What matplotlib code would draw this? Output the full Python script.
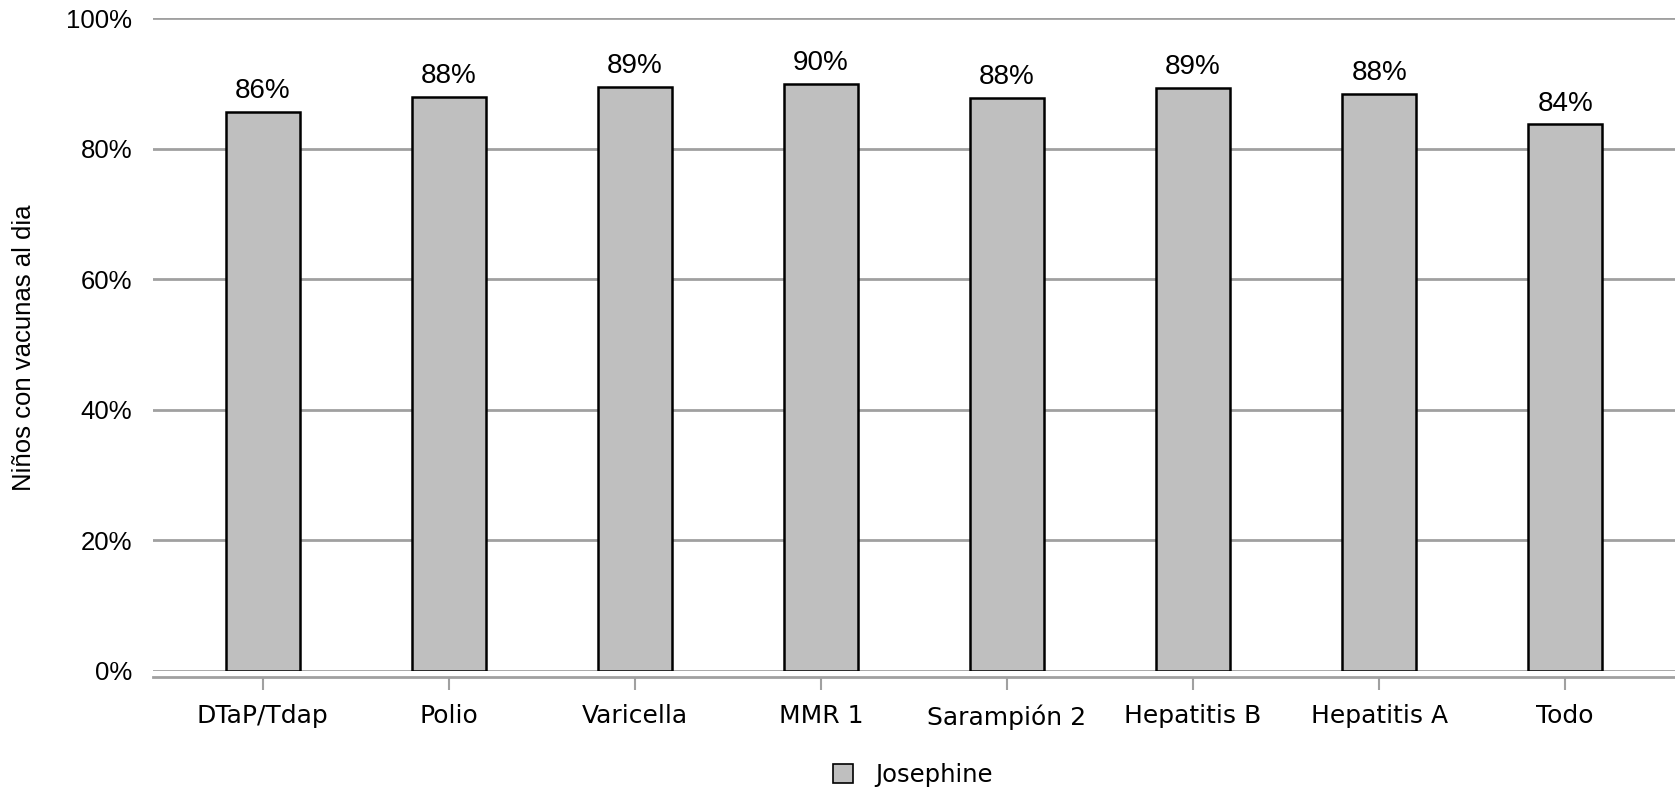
import matplotlib.pyplot as plt
from matplotlib.patches import Patch

categories = ['DTaP/Tdap', 'Polio', 'Varicella', 'MMR 1', 'Sarampión 2',
              'Hepatitis B', 'Hepatitis A', 'Todo']
values = [85.6, 87.9, 89.4, 89.9, 87.7, 89.3, 88.4, 83.7]
series_name = 'Josephine'
y_ticks = [0, 20, 40, 60, 80, 100]
y_label = 'Niños con vacunas al dia'

fig = plt.figure(figsize=(16.75, 7.91), dpi=100)
ax = fig.add_axes([153 / 1675, 1 - 671 / 791, 1 - 153 / 1675, (671 - 18) / 791])

x = list(range(len(categories)))
ax.bar(x, values, width=0.40, color='#bfbfbf', edgecolor='black', linewidth=1.8, zorder=3)

for xi, v in zip(x, values):
    ax.text(xi, v + 1.2, f'{round(v):.0f}%', ha='center', va='bottom',
            fontsize=20, family='Liberation Sans', zorder=4)

ax.set_xlim(-0.59, len(categories) - 1 + 0.59)
ax.set_ylim(0, 100)

ax.grid(axis='y', color='#a0a0a0', linewidth=2, zorder=0)
ax.tick_params(axis='y', length=0, pad=15, labelsize=18.5)
ax.tick_params(axis='x', length=9, width=1.5, color='#a0a0a0', pad=11, labelsize=18)

ax.set_yticks(y_ticks)
ax.set_yticklabels([f'{t}%' for t in y_ticks], family='Liberation Sans')
ax.set_xticks(x)
ax.set_xticklabels(categories, family='DejaVu Sans')

for s in ['top', 'right', 'left']:
    ax.spines[s].set_visible(False)
ax.spines['bottom'].set_color('#a0a0a0')
ax.spines['bottom'].set_linewidth(2)
ax.spines['bottom'].set_position(('outward', 4))

fig.text(24 / 1675, 1 - 348 / 791, y_label, rotation=90, ha='center', va='center',
         fontsize=18.5, family='Liberation Sans')

handle = Patch(facecolor='#bfbfbf', edgecolor='black', linewidth=1.2)
fig.legend([handle], [series_name], loc='center', bbox_to_anchor=(0.545, 1 - 775 / 791),
           frameon=False, prop={'family': 'DejaVu Sans', 'size': 17.5},
           handlelength=0.8, handleheight=0.8, handletextpad=0.9)

fig.savefig('out.png', dpi=100)
